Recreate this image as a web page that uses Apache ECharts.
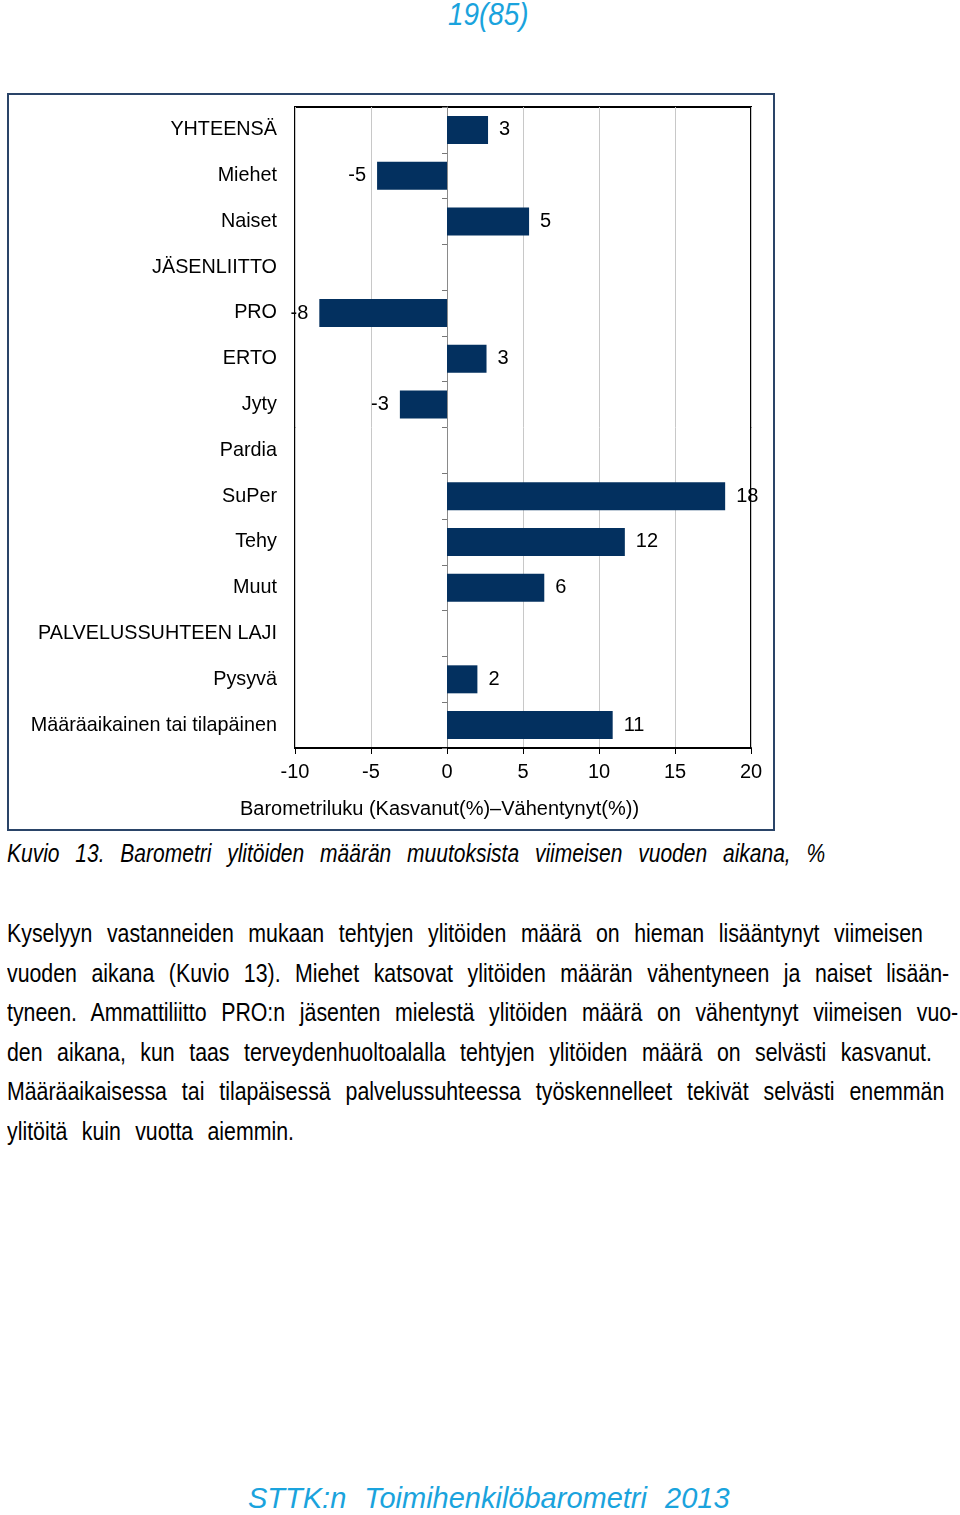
<!DOCTYPE html>
<html>
<head>
<meta charset="utf-8">
<script src="https://cdn.jsdelivr.net/npm/echarts@6/dist/echarts.min.js"></script>
<style>
  html, body { margin: 0; padding: 0; background: #fff; }
  body { width: 960px; height: 1515px; position: relative; overflow: hidden; }
  .pg { position: absolute; color: #1aa3dd; font-style: italic; white-space: nowrap; }
  #pnum { top: -3px; left: 448px; font-family: "Liberation Sans", sans-serif; font-size: 31px; transform: scaleX(0.9); transform-origin: 0 0; }
  #foot { top: 1482px; left: 248px; font-family: "Liberation Sans", Arial, sans-serif; font-size: 29px; word-spacing: 10px; }
  #frame { position: absolute; left: 7px; top: 93px; width: 764px; height: 734px; border: 2px solid #2a4468; }
  #chart { position: absolute; left: 0; top: 0; width: 764px; height: 734px; }
  .ln { position: absolute; left: 7px; white-space: nowrap; text-align: justify; text-align-last: justify;
        font-family: "Liberation Sans", sans-serif; font-size: 26px; color: #000; line-height: 30px;
        transform: scaleX(0.82); transform-origin: 0 0; }
  .cap { font-style: italic; font-size: 25px; transform: scaleX(0.84); }
</style>
</head>
<body>
<div class="pg" id="pnum">19(85)</div>
<div id="frame"><div id="chart"></div></div>
<div class="ln cap" style="top:838px;width:974px;">Kuvio 13. Barometri ylitöiden määrän muutoksista viimeisen vuoden aikana, %</div>
<div class="ln" style="top:918px;width:1117px;">Kyselyyn vastanneiden mukaan tehtyjen ylitöiden määrä on hieman lisääntynyt viimeisen</div>
<div class="ln" style="top:958px;width:1149px;">vuoden aikana (Kuvio 13). Miehet katsovat ylitöiden määrän vähentyneen ja naiset lisään-</div>
<div class="ln" style="top:997px;width:1160px;">tyneen. Ammattiliitto PRO:n jäsenten mielestä ylitöiden määrä on vähentynyt viimeisen vuo-</div>
<div class="ln" style="top:1037px;width:1128px;">den aikana, kun taas terveydenhuoltoalalla tehtyjen ylitöiden määrä on selvästi kasvanut.</div>
<div class="ln" style="top:1076px;width:1143px;">Määräaikaisessa tai tilapäisessä palvelussuhteessa työskennelleet tekivät selvästi enemmän</div>
<div class="ln" style="top:1116px;width:350px;">ylitöitä kuin vuotta aiemmin.</div>
<div class="pg" id="foot">STTK:n Toimihenkilöbarometri 2013</div>
<script>
const categories = ["YHTEENSÄ", "Miehet", "Naiset", "JÄSENLIITTO", "PRO", "ERTO", "Jyty", "Pardia", "SuPer", "Tehy", "Muut", "PALVELUSSUHTEEN LAJI", "Pysyvä", "Määräaikainen tai tilapäinen"];
const values = [2.7, -4.6, 5.4, null, -8.4, 2.6, -3.1, null, 18.3, 11.7, 6.4, null, 2.0, 10.9];
const xTicks = [-10, -5, 0, 5, 10, 15, 20];
const axisTitle = "Barometriluku (Kasvanut(%)–Vähentynyt(%))";

const chart = echarts.init(document.getElementById('chart'), null, { renderer: 'canvas' });
const FONT = '"Liberation Sans", Arial, sans-serif';
const barData = values.map(v => v === null ? null : {
  value: v,
  label: { position: v < 0 ? 'left' : 'right' }
});
chart.setOption({
  animation: false,
  grid: { left: 286, top: 12, width: 456, height: 641, show: true, borderColor: '#000', borderWidth: 2, backgroundColor: 'transparent' },
  xAxis: {
    type: 'value', min: xTicks[0], max: xTicks[xTicks.length - 1], interval: 5,
    axisLine: { show: true, onZero: false, lineStyle: { color: '#000', width: 2 } },
    axisTick: { show: true, length: 6, lineStyle: { color: '#000', width: 1 } },
    axisLabel: { margin: 14, fontSize: 20, color: '#000', fontFamily: FONT },
    splitLine: { show: true, lineStyle: { color: '#c8c8c8', width: 1 } }
  },
  yAxis: [{
    type: 'category', data: categories, inverse: true,
    axisLine: { show: false, onZero: false },
    axisTick: { show: false },
    axisLabel: { margin: 18, fontSize: 19.8, color: '#000', fontFamily: FONT, interval: 0, padding: [3, 0, 0, 0] }
  }, {
    type: 'category', data: categories, inverse: true, position: 'left',
    axisLine: { show: true, onZero: true, lineStyle: { color: '#8a8a8a', width: 1 } },
    axisTick: { show: true, length: 5, lineStyle: { color: '#777' } },
    axisLabel: { show: false }
  }],
  series: [{
    type: 'bar', yAxisIndex: 0, data: barData, barWidth: 28,
    itemStyle: { color: '#03305f' },
    label: { show: true, distance: 11, fontSize: 20, color: '#000', fontFamily: FONT, padding: [3, 0, 0, 0],
      formatter: p => String(Math.round(p.value)) }
  }],
  graphic: [{
    type: 'text', left: 231, top: 704,
    style: { text: axisTitle, fontSize: 20, fontFamily: FONT, fill: '#000' }
  }]
});
</script>
</body>
</html>
